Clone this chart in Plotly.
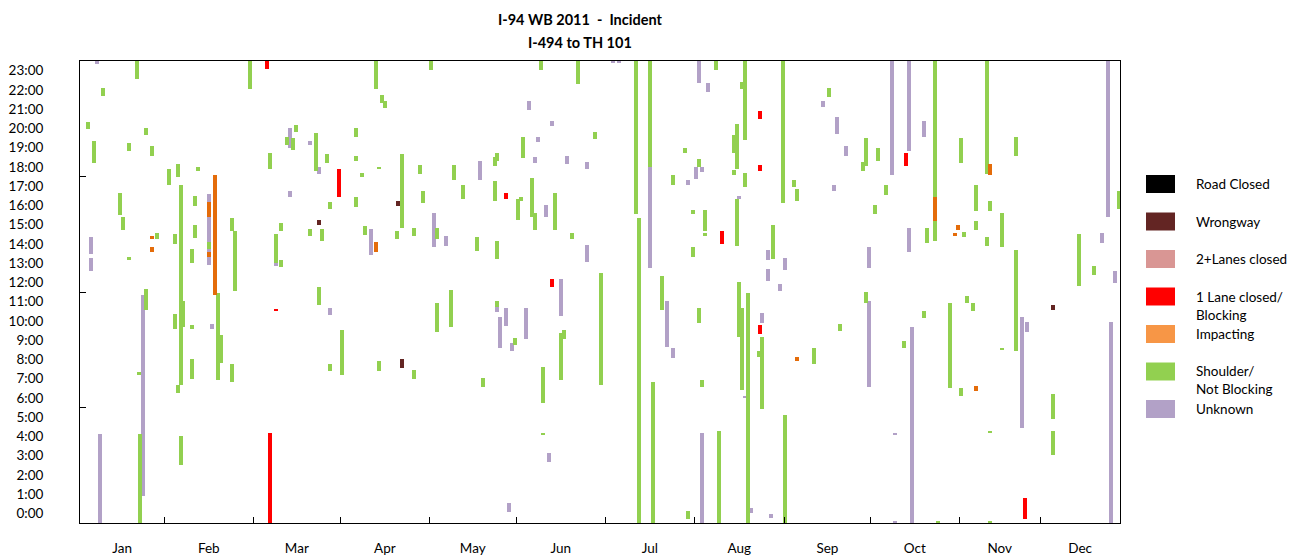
import plotly.graph_objects as go

# Incidents on I-94 WB (I-494 to TH 101), 2011.
# Each incident: (day of year, start hour, end hour)
unknown = [
    (6.0, 23.85, 24.0), (45.3, 13.4, 17.09), (3.9, 13.97, 14.86), (3.9, 13.09, 13.77),
    (22.1, 1.4, 11.84), (46.3, 10.08, 10.34), (7.0, 0.0, 4.62),
    (73.7, 19.48, 20.52), (80.7, 19.64, 19.84), (83.9, 18.13, 18.49), (73.7, 16.96, 17.27),
    (68.8, 13.4, 13.5), (102.1, 13.92, 15.27), (124.2, 14.34, 16.1), (87.7, 10.8, 11.17),
    (187.0, 23.9, 24.0), (189.3, 23.9, 24.0), (157.6, 21.46, 21.92), (165.6, 20.62, 20.88),
    (160.7, 19.79, 20.05), (159.7, 18.7, 19.01), (170.9, 18.65, 19.06), (177.9, 18.39, 18.75),
    (140.4, 17.82, 18.8), (163.5, 15.9, 16.52), (128.5, 14.39, 14.91), (177.9, 13.56, 14.44),
    (168.8, 10.75, 12.68), (146.3, 10.96, 11.22), (149.5, 10.23, 11.17), (147.4, 9.09, 10.7),
    (156.5, 9.56, 11.17), (151.6, 8.94, 9.35), (164.6, 3.17, 3.64), (150.6, 0.57, 1.04),
    (200.1, 13.25, 18.49), (217.3, 22.86, 24.0), (220.4, 22.39, 22.86), (218.3, 18.23, 18.49),
    (216.2, 17.87, 18.49), (213.4, 17.56, 17.82), (231.3, 16.83, 16.99), (241.5, 13.66, 14.18),
    (247.4, 13.14, 13.77), (241.5, 12.57, 13.19), (245.7, 12.05, 12.42), (206.0, 9.14, 11.53),
    (208.1, 8.57, 9.09), (239.4, 10.39, 10.91), (233.4, 6.49, 6.6), (218.3, 0.0, 4.68),
    (235.5, 0.52, 0.78), (242.5, 0.26, 0.47),
    (285.0, 18.08, 24.0), (291.0, 19.32, 24.0), (260.8, 21.61, 21.92), (265.7, 20.21, 21.09),
    (296.2, 20.05, 20.88), (268.8, 19.06, 19.58), (264.6, 17.25, 17.56), (291.0, 14.08, 15.32),
    (276.9, 13.25, 14.34), (276.9, 7.06, 11.53), (292.0, 0.0, 10.18), (286.0, 4.57, 4.68),
    (286.0, 0.0, 0.1),
    (360.8, 15.9, 24.0), (358.7, 14.55, 15.06), (363.1, 12.47, 13.09), (330.6, 4.94, 10.7),
    (332.4, 9.92, 10.44), (361.8, 0.0, 10.44),
]

shoulder = [
    (20.0, 23.07, 24.0), (59.7, 22.55, 24.0), (8.1, 22.18, 22.6), (2.8, 20.47, 20.83),
    (23.2, 20.16, 20.52), (4.9, 18.7, 19.84), (17.2, 19.32, 19.74), (25.3, 19.06, 19.58),
    (31.2, 17.56, 18.39), (34.4, 17.97, 18.65), (41.4, 18.29, 18.49), (35.4, 7.17, 17.56),
    (36.1, 10.18, 11.53), (34.4, 6.75, 7.17), (35.4, 3.01, 4.52), (45.3, 14.23, 14.61),
    (14.0, 16.0, 17.14), (40.4, 16.47, 16.99), (15.1, 15.22, 15.9), (40.4, 14.8, 15.48),
    (53.3, 15.17, 15.84), (54.4, 12.05, 15.17), (27.0, 14.75, 15.07), (33.3, 14.49, 15.01),
    (39.3, 13.5, 14.23), (17.2, 13.66, 13.82), (23.2, 11.06, 12.16), (33.3, 10.08, 10.86),
    (39.3, 10.08, 10.29), (48.4, 7.43, 11.95), (49.5, 8.31, 9.77), (39.3, 7.48, 8.52),
    (53.3, 7.32, 8.26), (20.8, 7.74, 7.84), (21.1, 0.0, 4.62),
    (103.9, 22.55, 24.0), (123.2, 23.53, 24.0), (106.0, 21.82, 22.23), (107.0, 21.56, 21.92),
    (75.8, 20.31, 20.68), (72.7, 19.64, 20.05), (74.8, 19.38, 20.0), (82.8, 18.29, 20.26),
    (86.7, 18.7, 19.17), (96.9, 20.05, 20.52), (96.9, 18.81, 19.06), (99.0, 17.97, 18.18),
    (104.9, 18.39, 18.49), (113.0, 15.32, 19.17), (119.3, 18.13, 18.6), (66.7, 18.39, 19.22),
    (87.7, 16.31, 16.68), (96.9, 16.42, 16.94), (120.4, 16.62, 17.25), (70.6, 15.15, 15.58),
    (68.8, 13.5, 15.0), (70.6, 13.3, 13.66), (80.7, 14.9, 15.27), (85.0, 14.65, 15.27),
    (100.0, 14.96, 15.43), (111.3, 14.75, 15.17), (117.2, 14.91, 15.32), (125.3, 14.75, 15.32),
    (83.9, 11.32, 12.26), (125.3, 9.92, 11.43), (92.0, 7.69, 10.03), (87.7, 7.9, 8.26),
    (104.9, 7.9, 8.42), (117.2, 7.48, 7.95),
    (161.8, 23.53, 24.0), (174.8, 22.81, 24.0), (180.7, 19.95, 20.31), (155.5, 18.96, 20.05),
    (145.5, 18.55, 19.0), (146.3, 18.8, 19.2), (131.3, 17.82, 18.6), (134.4, 16.83, 17.56),
    (145.6, 16.73, 17.77), (153.7, 15.74, 16.83), (154.7, 16.73, 16.94), (158.6, 15.9, 17.92),
    (159.7, 15.22, 16.1), (166.7, 15.22, 17.14), (139.3, 14.13, 14.86), (146.3, 13.71, 14.65),
    (172.7, 14.75, 15.06), (182.8, 7.17, 12.99), (130.2, 10.18, 12.1), (146.3, 11.22, 11.53),
    (152.7, 9.25, 9.61), (168.8, 7.43, 9.87), (169.8, 9.56, 10.03), (141.4, 7.06, 7.53),
    (162.5, 6.23, 8.1), (162.5, 4.57, 4.68),
    (195.1, 16.05, 24.0), (196.2, 0.0, 15.84), (200.1, 18.49, 24.0), (223.2, 23.53, 24.0),
    (233.4, 19.9, 24.0), (232.3, 22.55, 22.91), (246.7, 16.62, 24.0), (230.6, 18.39, 20.73),
    (229.5, 19.22, 20.16), (212.3, 19.22, 19.48), (217.3, 18.49, 18.91), (229.5, 18.08, 18.34),
    (233.4, 17.45, 18.18), (208.1, 17.56, 18.08), (250.6, 17.45, 17.82), (251.6, 16.73, 17.35),
    (230.6, 14.39, 16.83), (215.1, 16.05, 16.26), (219.3, 15.17, 16.26), (219.3, 14.96, 15.06),
    (243.1, 13.71, 15.48), (215.1, 13.82, 14.34), (204.3, 11.06, 12.83), (217.3, 10.39, 11.17),
    (231.3, 9.66, 12.52), (232.3, 6.91, 11.17), (234.4, 0.0, 11.95), (239.4, 5.92, 9.66),
    (238.3, 8.62, 8.94), (218.3, 7.06, 7.43), (201.2, 0.0, 7.34), (224.3, 0.0, 4.78),
    (247.4, 0.0, 5.61), (213.4, 0.21, 0.62),
    (300.1, 16.94, 24.0), (300.1, 14.65, 15.69), (262.9, 22.13, 22.6), (275.9, 18.55, 20.0),
    (280.1, 18.81, 19.48), (274.8, 18.27, 18.73), (309.2, 18.7, 19.98), (282.9, 17.04, 17.56),
    (279.0, 16.05, 16.52), (297.3, 14.55, 15.32), (310.2, 14.86, 15.12), (275.9, 11.43, 12.0),
    (311.3, 11.43, 11.79), (296.2, 10.65, 11.01), (305.3, 7.01, 11.43), (266.7, 9.97, 10.34),
    (289.2, 9.09, 9.45), (257.6, 8.26, 9.09), (309.2, 6.6, 7.01), (301.1, 0.0, 0.1),
    (318.3, 18.13, 24.0), (328.5, 19.06, 20.05), (314.5, 16.21, 17.56), (319.4, 16.21, 16.73),
    (364.8, 16.31, 17.25), (323.6, 14.34, 16.1), (314.5, 15.22, 15.69), (318.3, 14.39, 14.86),
    (350.6, 12.31, 15.01), (355.9, 12.88, 13.35), (328.5, 8.94, 14.18), (313.4, 10.99, 11.43),
    (323.6, 8.99, 9.09), (341.5, 5.4, 6.7), (341.5, 3.53, 4.78), (319.4, 4.68, 4.78),
    (319.4, 0.0, 0.1),
]

impacting = [
    (47.4, 11.84, 18.08), (45.3, 15.9, 16.68), (45.3, 13.82, 14.08), (25.3, 14.75, 14.91),
    (25.3, 14.08, 14.34), (103.9, 14.08, 14.6), (251.6, 8.42, 8.62), (300.1, 15.69, 16.94),
    (308.1, 15.22, 15.48), (307.1, 14.96, 15.06), (319.4, 18.08, 18.65), (314.5, 6.86, 7.11),
]

one_lane = [
    (65.6, 23.58, 24.0), (90.9, 16.96, 18.39), (68.8, 11.01, 11.12), (66.7, 0.0, 4.68),
    (149.5, 16.83, 17.14), (165.6, 12.26, 12.68), (238.7, 21.0, 21.4), (238.7, 18.27, 18.6),
    (225.3, 14.49, 15.17), (238.7, 9.82, 10.29), (289.9, 18.55, 19.22), (331.7, 0.21, 1.3),
]

two_plus_lanes = []

wrongway = [
    (111.7, 16.47, 16.73), (83.9, 15.48, 15.74), (113.0, 8.05, 8.52), (341.5, 11.06, 11.32),
]

road_closed = []

months = ["Jan", "Feb", "Mar", "Apr", "May", "Jun", "Jul", "Aug", "Sep", "Oct", "Nov", "Dec"]
month_starts = [0, 29.6, 60.8, 91.4, 122.6, 153.1, 184.4, 215.6, 247.2, 277.4, 308.6, 337.0, 365]
hour_labels = [f"{h}:00" for h in range(24)]

# legend order (top to bottom): label, swatch colour
legend_items = [
    ("Road Closed", "#000000"),
    ("Wrongway", "#632523"),
    ("2+Lanes closed", "#D99694"),
    ("1 Lane closed/<br>Blocking", "#FF0000"),
    ("Impacting", "#F79646"),
    ("Shoulder/<br>Not Blocking", "#92D050"),
    ("Unknown", "#B2A1C7"),
]

# drawing order: least severe first so severe segments sit on top
series = [
    ("Unknown", unknown, "#B2A1C7"),
    ("Shoulder/Not Blocking", shoulder, "#92D050"),
    ("Impacting", impacting, "#E46C0A"),
    ("1 Lane closed/Blocking", one_lane, "#FF0000"),
    ("2+Lanes closed", two_plus_lanes, "#D99694"),
    ("Wrongway", wrongway, "#632523"),
    ("Road Closed", road_closed, "#000000"),
]

FONT = "Lato, 'Open Sans', sans-serif"
W, H = 1312, 556
ML, MR, MT, MB = 80, 192, 61, 33
PW, PH = W - ML - MR, H - MT - MB

fig = go.Figure()
for name, rows, color in series:
    if not rows:
        continue
    fig.add_trace(go.Bar(
        name=name,
        x=[r[0] for r in rows],
        base=[r[1] for r in rows],
        y=[r[2] - r[1] for r in rows],
        width=1.4,
        marker=dict(color=color, line=dict(width=0)),
        showlegend=False,
        hovertemplate="day %{x}<br>%{base:.2f}h +%{y:.2f}h<extra>" + name + "</extra>",
    ))

month_mid = [(a + b) / 2 for a, b in zip(month_starts[:-1], month_starts[1:])]

fig.update_layout(
    width=W, height=H,
    margin=dict(l=ML, r=MR, t=MT, b=MB, pad=0, autoexpand=False),
    paper_bgcolor="white", plot_bgcolor="white",
    barmode="overlay", bargap=0,
    font=dict(family=FONT, size=13.5, color="#000000"),
    showlegend=False,
    xaxis=dict(
        range=[0, 365], showgrid=False, zeroline=False, automargin=False,
        showline=True, linecolor="#000000", linewidth=1, mirror=True,
        tickmode="array", tickvals=month_mid, ticktext=months, ticks="",
        ticklabelstandoff=13,
        minor=dict(tickmode="array", tickvals=month_starts[1:-1], ticks="inside",
                   ticklen=6, tickcolor="#000000", tickwidth=1, showgrid=False),
    ),
    yaxis=dict(
        range=[0, 24], showgrid=False, zeroline=False, automargin=False,
        showline=True, linecolor="#000000", linewidth=1, mirror=True,
        tickmode="array", tickvals=[h + 0.5 for h in range(24)], ticktext=hour_labels,
        ticks="", ticklabelstandoff=33,
        minor=dict(tickmode="array", tickvals=[6, 12, 18], ticks="inside",
                   ticklen=6, tickcolor="#000000", tickwidth=1, showgrid=False),
    ),
)

def px_x(px):
    return (px - ML) / PW

def px_y(py):
    return (H - MB - py) / PH

# title (two lines)
for text, py in [("I-94 WB 2011\u00a0\u00a0-\u00a0\u00a0Incident", 20), ("I-494 to TH 101", 42)]:
    fig.add_annotation(text=f"<b>{text}</b>", x=px_x(580), y=px_y(py), xref="paper", yref="paper",
                       xanchor="center", yanchor="middle", showarrow=False,
                       font=dict(family=FONT, size=14.5, color="#000000"))

# legend panel
for i, (label, color) in enumerate(legend_items):
    cy = 184 + 37.5 * i
    fig.add_shape(type="rect", xref="paper", yref="paper",
                  x0=px_x(1146), x1=px_x(1175), y0=px_y(cy + 9), y1=px_y(cy - 9),
                  fillcolor=color, line=dict(width=0))
    fig.add_annotation(text=label, x=px_x(1194), y=px_y(cy - 10), xref="paper", yref="paper",
                       xanchor="left", yanchor="top", align="left", showarrow=False,
                       font=dict(family=FONT, size=13.5, color="#000000"))

fig.write_html("out.html")
